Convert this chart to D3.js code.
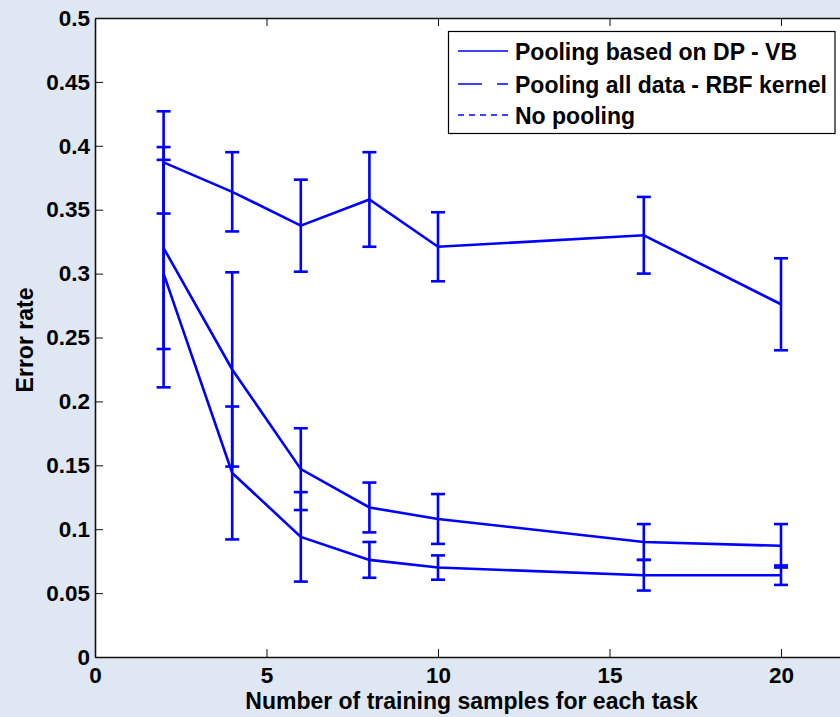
<!DOCTYPE html>
<html>
<head>
<meta charset="utf-8">
<script src="https://cdn.jsdelivr.net/npm/d3@7"></script>
<style>
  html, body { margin: 0; padding: 0; background: #dfe8f2; overflow: hidden; }
  svg { display: block; }
  text { font-family: "Liberation Sans", Arial, sans-serif; font-weight: bold; fill: #000; }
</style>
</head>
<body>
<svg id="chart" width="840" height="717"></svg>
<script>
// ---- data ----
const xValues = [2, 4, 6, 8, 10, 16, 20];
const seriesNames = ["Pooling based on DP - VB", "Pooling all data - RBF kernel", "No pooling"];
const dpVbMean = [0.300, 0.144, 0.094, 0.076, 0.070, 0.064, 0.064];
const dpVbErr  = [0.089, 0.052, 0.035, 0.014, 0.0095, 0.012, 0.0076];
const rbfMean  = [0.320, 0.225, 0.147, 0.117, 0.108, 0.090, 0.087];
const rbfErr   = [0.079, 0.076, 0.032, 0.0195, 0.0195, 0.014, 0.017];
const noPoolMean = [0.387, 0.364, 0.3375, 0.358, 0.321, 0.330, 0.276];
const noPoolErr  = [0.040, 0.031, 0.036, 0.037, 0.027, 0.030, 0.036];
const xTicks = [0, 5, 10, 15, 20];
const yTicks = [0, 0.05, 0.1, 0.15, 0.2, 0.25, 0.3, 0.35, 0.4, 0.45, 0.5];
const xLabel = "Number of training samples for each task";
const yLabel = "Error rate";

const series = [
  { name: seriesNames[0], mean: dpVbMean, err: dpVbErr, dash: null },
  { name: seriesNames[1], mean: rbfMean, err: rbfErr, dash: "24,15,6,0" },
  { name: seriesNames[2], mean: noPoolMean, err: noPoolErr, dash: "6,5" }
];

// ---- layout ----
const svg = d3.select("#chart");
const mLeft = 95, mTop = 18, mBottom = 657;
const x = d3.scaleLinear().domain([0, 22]).range([mLeft, mLeft + 22 * 34.3]);
const y = d3.scaleLinear().domain([0, 0.5]).range([mBottom, mTop]);
const mRight = x(22);
const blue = "#0000ff";

// plot background
svg.append("rect").attr("x", mLeft).attr("y", mTop)
  .attr("width", mRight - mLeft).attr("height", mBottom - mTop).attr("fill", "#fff");

// axes
const fmt = d => d === 0 ? "0" : String(+d.toFixed(2));
const xAxisB = svg.append("g").attr("transform", `translate(0,${mBottom})`)
  .call(d3.axisBottom(x).tickValues(xTicks).tickSizeInner(-8).tickSizeOuter(0).tickPadding(10).tickFormat(fmt));
const xAxisT = svg.append("g").attr("transform", `translate(0,${mTop})`)
  .call(d3.axisTop(x).tickValues(xTicks).tickSizeInner(-8).tickSizeOuter(0).tickFormat(""));
const yAxisL = svg.append("g").attr("transform", `translate(${mLeft},0)`)
  .call(d3.axisLeft(y).tickValues(yTicks).tickSizeInner(-8).tickSizeOuter(0).tickPadding(5).tickFormat(fmt));
[xAxisB, xAxisT, yAxisL].forEach(g => {
  g.select(".domain").attr("stroke", "#111").attr("stroke-width", 1.6);
  g.selectAll(".tick line").attr("stroke", "#111").attr("stroke-width", 1);
  g.selectAll(".tick text").attr("font-size", 22.5).attr("font-family", "Liberation Sans, Arial, sans-serif")
    .attr("font-weight", "bold").attr("fill", "#000");
});
xAxisB.selectAll(".tick text").attr("dy", "0.71em");

// axis labels
svg.append("text").attr("x", 471.5).attr("y", 709).attr("text-anchor", "middle")
  .attr("font-size", 23).text(xLabel);
svg.append("text").attr("transform", "translate(33,340) rotate(-90)").attr("text-anchor", "middle")
  .attr("font-size", 23).text(yLabel);

// lines and error bars
const line = d3.line().x(d => x(d[0])).y(d => y(d[1]));
const capW = 7;
series.forEach(s => {
  const pts = xValues.map((xv, i) => [xv, s.mean[i]]);
  svg.append("path").datum(pts).attr("d", line)
    .attr("fill", "none").attr("stroke", blue).attr("stroke-width", 2.6);
  const g = svg.append("g").attr("stroke", blue).attr("stroke-width", 2.6);
  xValues.forEach((xv, i) => {
    const lo = s.mean[i] - s.err[i], hi = s.mean[i] + s.err[i];
    g.append("line").attr("x1", x(xv)).attr("x2", x(xv)).attr("y1", y(lo)).attr("y2", y(hi));
    g.append("line").attr("x1", x(xv) - capW).attr("x2", x(xv) + capW).attr("y1", y(lo)).attr("y2", y(lo));
    g.append("line").attr("x1", x(xv) - capW).attr("x2", x(xv) + capW).attr("y1", y(hi)).attr("y2", y(hi));
  });
});

// legend
const lg = svg.append("g");
lg.append("rect").attr("x", 448.5).attr("y", 31.5).attr("width", 386.5).attr("height", 102)
  .attr("fill", "#fff").attr("stroke", "#000").attr("stroke-width", 1.2);
const legendY = [51, 84, 115];
series.forEach((s, i) => {
  lg.append("line").attr("x1", 458).attr("x2", 508).attr("y1", legendY[i]).attr("y2", legendY[i])
    .attr("stroke", blue).attr("stroke-width", 1.3)
    .attr("stroke-dasharray", s.dash);
  lg.append("text").attr("x", 515).attr("y", legendY[i] + 8.5).attr("font-size", 23).text(s.name);
});
</script>
</body>
</html>
